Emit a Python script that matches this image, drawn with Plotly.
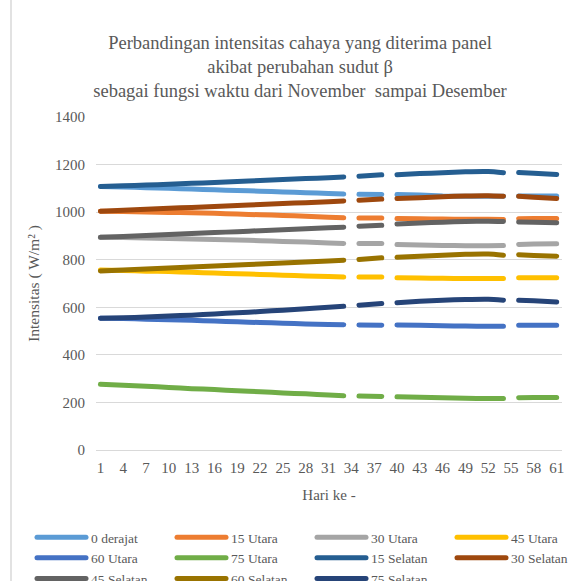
import plotly.graph_objects as go

# Days sampled along the period (None = no measurement on that day)
hari = [1, 4, 7, 10, 13, 16, 19, 22, 25, 28, 31, 33, 34, 35, 38, 39,
        40, 43, 46, 49, 52, 54, 55, 56, 58, 61]

n = None
derajat_0 = [1108, 1106, 1103, 1100, 1097, 1094, 1091, 1088, 1085, 1082, 1078, 1076, n,
             1075, 1074, n, 1074, 1072, 1068, 1067, 1067, 1067, n, 1068, 1068, 1068]
utara_15 = [1004, 1003, 1001, 999, 997, 995, 992, 989, 986, 983, 979, 976, n,
            975, 975, n, 973, 972, 971, 970, 970, 969, n, 972, 973, 973]
utara_30 = [894, 893, 891, 889, 887, 885, 883, 880, 877, 874, 870, 868, n,
            868, 868, n, 864, 862, 860, 859, 859, 860, n, 864, 866, 867]
utara_45 = [757, 755, 752, 750, 747, 744, 741, 738, 735, 732, 729, 727, n,
            727, 727, n, 724, 723, 722, 721, 721, 721, n, 724, 724, 724]
utara_60 = [554, 553, 550, 548, 545, 542, 539, 536, 533, 530, 528, 527, n,
            526, 525, n, 526, 524, 522, 521, 520, 520, n, 524, 525, 525]
utara_75 = [276, 272, 268, 263, 258, 254, 249, 245, 240, 236, 231, 228, n,
            227, 225, n, 224, 222, 220, 218, 216, 216, n, 220, 221, 221]
selatan_15 = [1108, 1111, 1114, 1117, 1121, 1125, 1129, 1133, 1137, 1141, 1145, 1148, n,
              1151, 1157, n, 1157, 1162, 1166, 1170, 1171, 1166, n, 1167, 1163, 1158]
selatan_30 = [1004, 1008, 1012, 1016, 1020, 1024, 1028, 1032, 1036, 1040, 1044, 1047, n,
              1050, 1055, n, 1057, 1061, 1065, 1068, 1069, 1067, n, 1067, 1063, 1057]
selatan_45 = [894, 898, 902, 906, 910, 914, 918, 922, 926, 930, 934, 937, n,
              941, 945, n, 950, 954, 958, 961, 962, 961, n, 959, 957, 955]
selatan_60 = [753, 757, 761, 765, 769, 774, 778, 782, 786, 790, 795, 798, n,
              801, 808, n, 810, 815, 819, 823, 824, 819, n, 821, 818, 815]
selatan_75 = [554, 556, 559, 563, 567, 572, 577, 582, 588, 594, 600, 604, n,
              609, 616, n, 619, 625, 630, 633, 634, 630, n, 630, 627, 622]

nama_seri = ["0 derajat", "15 Utara", "30 Utara", "45 Utara", "60 Utara", "75 Utara",
             "15 Selatan", "30 Selatan", "45 Selatan", "60 Selatan", "75 Selatan"]
nilai_seri = [derajat_0, utara_15, utara_30, utara_45, utara_60, utara_75,
              selatan_15, selatan_30, selatan_45, selatan_60, selatan_75]
warna = ["#5B9BD5", "#ED7D31", "#A5A5A5", "#FFC000", "#4472C4", "#70AD47",
         "#255E91", "#9E480E", "#636363", "#997300", "#264478"]

x_ticks = list(range(1, 62, 3))
y_ticks = [0, 200, 400, 600, 800, 1000, 1200, 1400]

FONT = "Liberation Serif"
GREY = "#595959"

fig = go.Figure()
for nama, nilai, c in zip(nama_seri, nilai_seri, warna):
    fig.add_trace(go.Scatter(
        x=hari, y=nilai, name=nama, mode="lines",
        line=dict(color=c, width=5, shape="spline", smoothing=0.6),
        connectgaps=False,
    ))

W, H = 573, 581
L, R, T, B = 96, 11, 117, 131
pw = W - L - R

fig.update_layout(
    width=W, height=H,
    margin=dict(l=L, r=R, t=T, b=B, autoexpand=False),
    paper_bgcolor="white", plot_bgcolor="white",
    font=dict(family=FONT, color=GREY, size=15),
    title=dict(
        text="Perbandingan intensitas cahaya yang diterima panel<br>"
             "akibat perubahan sudut β<br>"
             "sebagai fungsi waktu dari November  sampai Desember",
        x=300 / W, xanchor="center", xref="container",
        y=1 - 49 / H, yanchor="top", yref="container",
        font=dict(family=FONT, size=18.5, color=GREY),
    ),
    xaxis=dict(
        range=[0.42, 61.7], tickmode="array", tickvals=x_ticks,
        ticktext=[str(v) for v in x_ticks],
        showgrid=False, zeroline=False,
        showline=True, linecolor="#D9D9D9", linewidth=1,
        ticks="", ticklabelstandoff=4,
        tickfont=dict(family=FONT, size=15, color=GREY),
        title=dict(text="Hari ke -", font=dict(family=FONT, size=15, color=GREY), standoff=14),
    ),
    yaxis=dict(
        range=[0, 1400], tickmode="array", tickvals=y_ticks,
        showgrid=True, gridcolor="#D9D9D9", gridwidth=1,
        zeroline=False, showline=False, ticks="",
        ticklabelstandoff=10,
        tickfont=dict(family=FONT, size=15, color=GREY),
        title=dict(text="Intensitas ( W/m² )", font=dict(family=FONT, size=15.5, color=GREY),
                   standoff=11),
    ),
    legend=dict(
        orientation="h",
        x=(32 - L) / pw, xanchor="left",
        y=(450 - 522) / (450 - T), yanchor="top",
        entrywidth=76, entrywidthmode="pixels",
        itemwidth=49,
        font=dict(family=FONT, size=13.5, color=GREY),
        tracegroupgap=0, bgcolor="rgba(0,0,0,0)",
    ),
    showlegend=True,
)

# Chart-area border on the left edge
fig.add_shape(type="line", xref="paper", yref="paper",
              x0=(11 - L) / pw, x1=(11 - L) / pw, y0=-1, y1=2,
              line=dict(color="#D9D9D9", width=1.5))

post = """
document.querySelectorAll('.js-line').forEach(function(p){
  p.style.strokeLinecap = 'round';
});
"""
fig.write_html("out.html", post_script=post)
